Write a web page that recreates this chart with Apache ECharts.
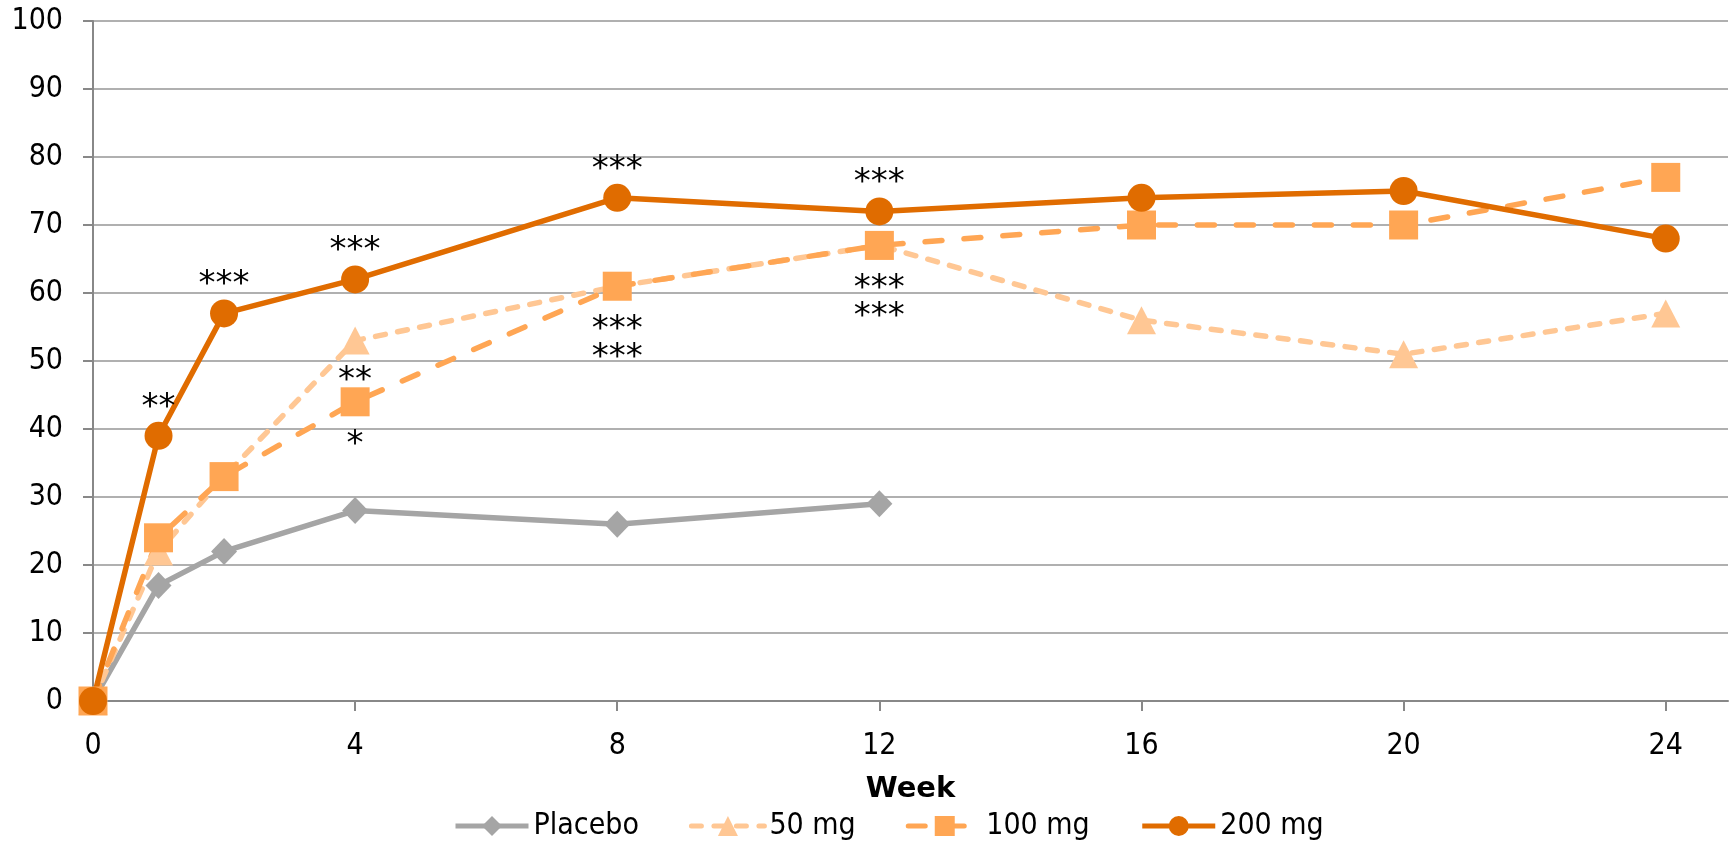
<!DOCTYPE html>
<html>
<head>
<meta charset="utf-8">
<title>Response by week</title>
<script src="https://cdn.jsdelivr.net/npm/echarts@6/dist/echarts.min.js"></script>
<style>
  html, body { margin: 0; padding: 0; background: #fff; }
  #chart { width: 1730px; height: 845px; }
</style>
</head>
<body>
<div id="chart"></div>
<script>
const weeks = [0, 1, 2, 4, 8, 12, 16, 20, 24];
const xTicks = [0, 4, 8, 12, 16, 20, 24];

const placebo = [0, 17, 22, 28, 26, 29];
const mg50 = [0, 22, 33, 53, 61, 67, 56, 51, 57];
const mg100 = [0, 24, 33, 44, 61, 67, 70, 70, 77];
const mg200 = [0, 39, 57, 62, 74, 72, 74, 75, 68];

// significance marks, one per week
const sig50 = ["", "", "", "**", "", "", "", "", ""];
const sig100 = ["", "", "", "*", "***\n***", "***\n***", "", "", ""];
const sig200 = ["", "**", "***", "***", "***", "***", "", "", ""];

const FONT = "'DejaVu Sans Condensed', 'DejaVu Sans', sans-serif";
const STAR_FONT = "'DejaVu Sans', sans-serif";

function points(values, marks, position, distance) {
  return values.map((v, i) => {
    const item = { value: [weeks[i], v] };
    if (marks && marks[i]) {
      item.label = {
        show: true,
        formatter: marks[i],
        position: position,
        distance: distance,
        color: "#000",
        fontSize: 34,
        lineHeight: 28,
        fontFamily: STAR_FONT,
      };
    }
    return item;
  });
}

const chart = echarts.init(document.querySelector("#chart"));

chart.setOption({
  animation: false,
  backgroundColor: "#fff",
  textStyle: { fontFamily: FONT, color: "#000" },
  grid: { left: 93, right: 2, top: 21, bottom: 144, containLabel: false },
  legend: {
    left: 448,
    top: 806,
    itemWidth: 73,
    itemHeight: 25,
    itemGap: 50,
    lineStyle: { width: 5 },
    textStyle: { fontSize: 30, color: "#000", fontFamily: FONT },
    data: ["Placebo", "50 mg", "100 mg", "200 mg"],
  },
  xAxis: {
    type: "value",
    min: 0,
    max: 24.95,
    interval: 4,
    name: "Week",
    nameLocation: "middle",
    nameGap: 74,
    nameTextStyle: { fontSize: 29, fontWeight: "bold", color: "#000", fontFamily: STAR_FONT },
    axisLine: { show: true, lineStyle: { color: "#888", width: 2 } },
    axisTick: { show: true, length: 10, customValues: xTicks, lineStyle: { color: "#888", width: 2 } },
    axisLabel: { customValues: xTicks, fontSize: 30, color: "#000", margin: 30, fontFamily: FONT },
    splitLine: { show: false },
  },
  yAxis: {
    type: "value",
    min: 0,
    max: 100,
    interval: 10,
    axisLine: { show: true, lineStyle: { color: "#888", width: 2 } },
    axisTick: { show: true, length: 10, lineStyle: { color: "#888", width: 2 } },
    axisLabel: { fontSize: 30, color: "#000", margin: 30, fontFamily: FONT },
    splitLine: { show: true, lineStyle: { color: "#b0b0b0", width: 2 } },
  },
  series: [
    {
      name: "Placebo",
      type: "line",
      data: points(placebo),
      symbol: "diamond",
      symbolSize: [26, 27],
      lineStyle: { color: "#a5a5a5", width: 5.5 },
      itemStyle: { color: "#a5a5a5" },
    },
    {
      name: "50 mg",
      type: "line",
      data: points(mg50, sig50, "bottom", 13),
      symbol: "triangle",
      symbolSize: [29, 28],
      lineStyle: { color: "#ffc794", width: 5.5, type: [10, 12.5], cap: "round" },
      itemStyle: { color: "#ffc794" },
    },
    {
      name: "100 mg",
      type: "line",
      data: points(mg100, sig100, "bottom", 15),
      symbol: "rect",
      symbolSize: 29,
      lineStyle: { color: "#ffa654", width: 5.5, type: [17, 22], cap: "round" },
      itemStyle: { color: "#ffa654" },
    },
    {
      name: "200 mg",
      type: "line",
      data: points(mg200, sig200, "top", 0),
      symbol: "circle",
      symbolSize: 28,
      lineStyle: { color: "#e06c00", width: 5.5 },
      itemStyle: { color: "#e06c00" },
    },
  ],
});
</script>
</body>
</html>
